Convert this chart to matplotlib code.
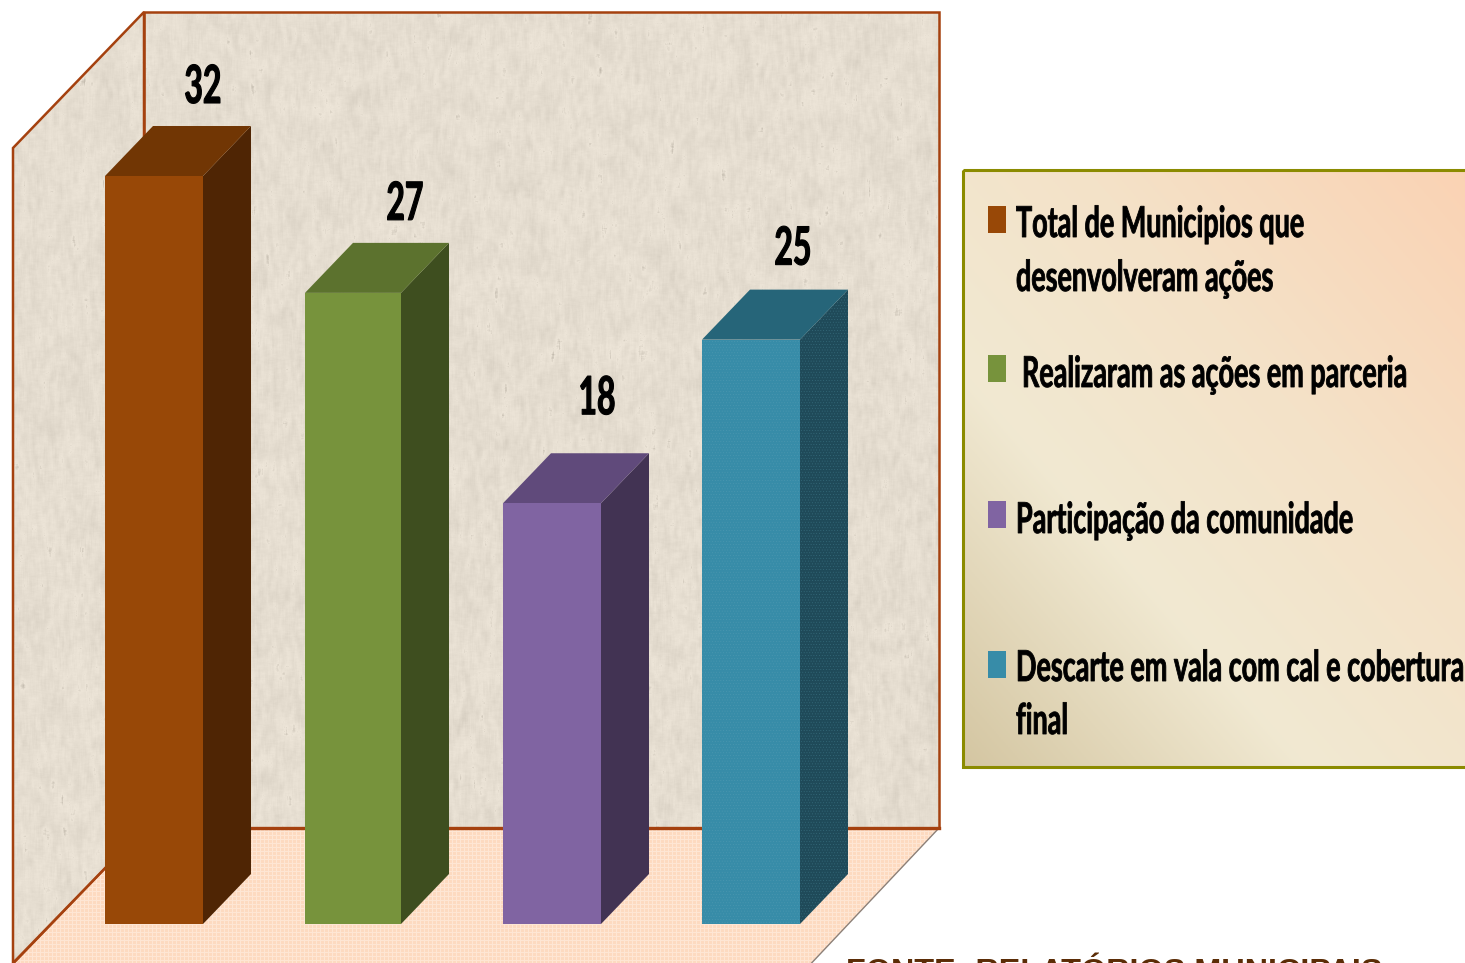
import numpy as np
import matplotlib
matplotlib.use("Agg")
import matplotlib.pyplot as plt
from matplotlib.patches import Polygon, Rectangle
from matplotlib.colors import LinearSegmentedColormap
from matplotlib.patheffects import AbstractPathEffect
from matplotlib.transforms import Affine2D

# ---- data
categories = ["Total de Municipios que\ndesenvolveram ações",
              "Realizaram as ações em parceria",
              "Participação da comunidade",
              "Descarte em vala com cal e cobertura\nfinal"]
values = [32, 27, 18, 25]
source = "FONTE: RELATÓRIOS MUNICIPAIS"

# ---- style
front = ["#984807", "#77933C", "#8064A2", "#378CA8"]
side = ["#4F2504", "#3E4E1F", "#423353", "#1F4A59"]
top = ["#713604", "#5C722E", "#604A7B", "#266579"]
FONT = ["Lato", "DejaVu Sans"]
W, H = 1465, 963
label_dx = [98, 100, 94, 91]
label_base = [73, 73, 89, 75]
bar_left = [105, 305, 503, 702]
bar_px = [98, 96, 98, 98]
legend_base = [[237, 291], [387], [533], [681, 734]]
legend_x = [1016, 1022, 1016, 1016]
swatch_y = [206, 355, 501, 651]


class TallText(AbstractPathEffect):
    """Stretches glyphs vertically about the baseline and thickens them a little."""
    def __init__(self, sy, stroke):
        super().__init__()
        self.sy = sy
        self.stroke = stroke

    def draw_path(self, renderer, gc, tpath, affine, rgbFace=None):
        g = renderer.new_gc()
        g.copy_properties(gc)
        g.set_linewidth(self.stroke)
        g.set_foreground("black")
        g.set_joinstyle("round")
        renderer.draw_path(g, tpath, Affine2D().scale(1, self.sy) + affine, rgbFace)
        g.restore()


fig = plt.figure(figsize=(W / 100, H / 100), dpi=100, facecolor="white")
bg = fig.add_axes([0, 0, 1, 1])
bg.set_xlim(0, W); bg.set_ylim(H, 0); bg.axis("off")


def noise(h, w, kx, ky):
    yy, xx = np.mgrid[0:h, 0:w]
    v = np.sin(xx * 12.9898 + yy * 78.233) * 43758.5453
    v = v - np.floor(v)
    v = np.apply_along_axis(lambda r: np.convolve(r, np.ones(kx) / kx, "same"), 1, v)
    v = np.apply_along_axis(lambda r: np.convolve(r, np.ones(ky) / ky, "same"), 0, v)
    return (v - v.mean()) / v.std()


# walls with a soft mottled texture
n = noise(963, 950, 5, 11)
n2 = noise(963, 950, 25, 25)
spots = np.clip(n - 1.9, 0, None)
wall = np.empty(n.shape + (3,))
for c, base in enumerate((229, 221, 208)):
    wall[..., c] = np.clip(base + 3.2 * n + 2.2 * n2 - 22 * spots, 0, 255) / 255
edge = "#A5410F"
for pts in ([(144, 12), (939, 12), (939, 828), (144, 828)],
            [(13, 148), (144, 12), (144, 828), (13, 963)]):
    p = Polygon(pts, closed=True, fc="none", ec="none")
    bg.add_patch(p)
    im = bg.imshow(wall, extent=(0, 950, 963, 0), interpolation="bilinear", zorder=1)
    im.set_clip_path(p)
    bg.add_patch(Polygon(pts, closed=True, fc="none", ec=edge, lw=1.8, zorder=3))
bg.set_xlim(0, W); bg.set_ylim(H, 0)

# floor with a fine mesh
floor = [(144, 828), (939, 828), (805, 970), (7, 970)]
fy, fx = np.mgrid[0:150, 0:950]
mesh = np.where((fx % 4 == 0) | (fy % 4 == 0), 1.0, 0.0)
fimg = np.empty(mesh.shape + (3,))
for c, (a, b) in enumerate(((253, 254), (218, 230), (192, 212))):
    fimg[..., c] = (a + (b - a) * mesh) / 255
fp = Polygon(floor, closed=True, fc="none", ec="none")
bg.add_patch(fp)
fi = bg.imshow(fimg, extent=(0, 950, 978, 828), interpolation="nearest", zorder=2)
fi.set_clip_path(fp)
bg.plot([939, 805], [828, 970], color="#8C8078", lw=1, zorder=3)
bg.plot([144, 7], [828, 970], color=edge, lw=1.6, zorder=3)
bg.plot([144, 939], [828, 828], color=edge, lw=2.4, zorder=3)
bg.set_xlim(0, W); bg.set_ylim(H, 0)

# legend box with diagonal gradient
cmap = LinearSegmentedColormap.from_list(
    "g", [(0, "#D4C6A2"), (0.33, "#F1E9D2"), (0.62, "#F4E2C8"), (1, "#FBD2B3")])
yy, xx = np.mgrid[0:1:300j, 0:1:300j]
grad = (xx + (1 - yy)) / 2
bg.imshow(grad, cmap=cmap, extent=(963, 1483, 767, 170), vmin=0, vmax=1, zorder=5, aspect="auto")
bg.add_patch(Rectangle((963, 170), 520, 597, fc="none", ec="#8B8B00", lw=2.2, zorder=6))
bg.set_xlim(0, W); bg.set_ylim(H, 0)

for i, lab in enumerate(categories):
    bg.add_patch(Rectangle((988, swatch_y[i]), 18, 27, fc=front[i], ec="none", zorder=7))
    for line, y in zip(lab.split("\n"), legend_base[i]):
        bg.text(legend_x[i], y, line, family=FONT, weight="bold", fontsize=19.4,
                color="black", va="baseline", ha="left", zorder=8,
                path_effects=[TallText(1.58, 0.6)])

bg.text(846, 981, source, family=["Liberation Sans", "DejaVu Sans"], weight="bold",
        fontsize=23.3, color="#5B2C06", va="baseline", ha="left", zorder=8, clip_on=False)

# bars: data axes aligned on top, y in value units
PX_Y = 23.375
PX_X = 199.0
BASE = 924
ax = fig.add_axes([0, 0, 1, 1], facecolor="none")
ax.set_xlim(-105 / PX_X, (W - 105) / PX_X)
ax.set_ylim((BASE - H) / PX_Y, BASE / PX_Y)
ax.axis("off")
dx, dy = 48 / PX_X, 50 / PX_Y
x0 = [(b - 105) / PX_X for b in bar_left]
bw = [b / PX_X for b in bar_px]
matplotlib.rcParams["hatch.linewidth"] = 0.3
ax.bar(x0, values, width=bw, align="edge", color=front, zorder=5, linewidth=0,
       edgecolor=["none", "none", "none", "#4B97B0"], hatch=[None, None, None, "......"])
for i, v in enumerate(values):
    x, w = x0[i], bw[i]
    tex = dict(hatch="......", ec="#356A7A") if i == 3 else dict(ec="none")
    ax.add_patch(Polygon([(x + w, 0), (x + w + dx, dy), (x + w + dx, v + dy), (x + w, v)],
                         closed=True, fc=side[i], lw=0, zorder=4, **tex))
    ax.add_patch(Polygon([(x, v), (x + dx, v + dy), (x + w + dx, v + dy), (x + w, v)],
                         closed=True, fc=top[i], ec="none", zorder=4))
    ax.text(x + label_dx[i] / PX_X, v + label_base[i] / PX_Y, str(v), family=FONT, weight="bold",
            fontsize=23, color="black", ha="center", va="baseline", zorder=6,
            path_effects=[TallText(1.65, 0.8)])

fig.savefig("out.png", dpi=100)
